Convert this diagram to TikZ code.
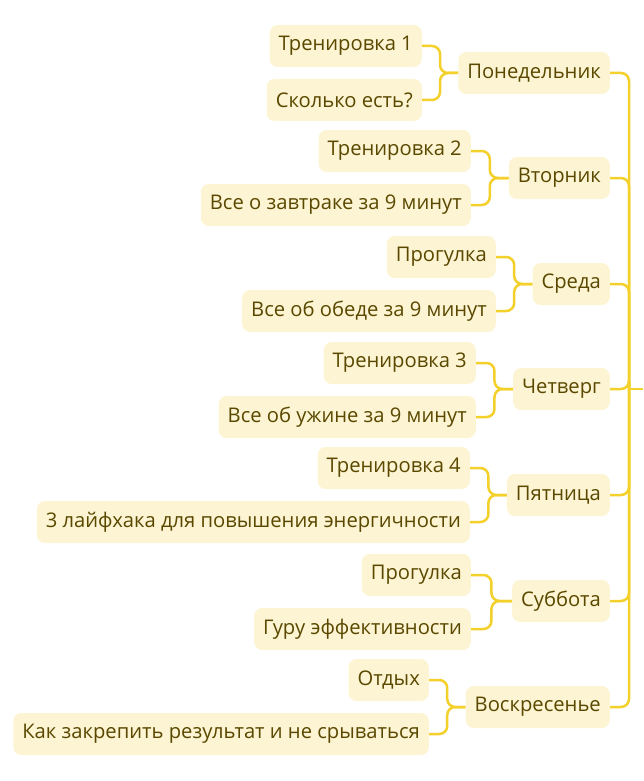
\documentclass[tikz,border=0pt]{standalone}
\usepackage{fontspec}
\setmainfont{Open Sans}
\usetikzlibrary{calc}
\definecolor{boxfill}{HTML}{FCF4D2}
\definecolor{linecol}{HTML}{F3D02A}
\definecolor{txtcol}{HTML}{5A4800}
\tikzset{
  item/.style={rectangle, rounded corners=8pt, fill=boxfill, text=txtcol,
    inner xsep=9pt, inner ysep=0pt, minimum height=42pt, anchor=east,
    font=\fontsize{20.2}{24}\selectfont},
  conn/.style={draw=linecol, line width=2.5pt, rounded corners=8pt},
}
\begin{document}
\begin{tikzpicture}[x=1pt,y=-1pt]
\useasboundingbox (0,0) rectangle (643,781);
% days
\node[item] (d1) at (610,73) {Понедельник};
\node[item] (d2) at (610,178) {Вторник};
\node[item] (d3) at (610,284) {Среда};
\node[item] (d4) at (610,389) {Четверг};
\node[item] (d5) at (610,495) {Пятница};
\node[item] (d6) at (610,601) {Суббота};
\node[item] (d7) at (610,707) {Воскресенье};
% children
\node[item] (a1) at (422,46) {Тренировка 1};
\node[item] (b1) at (422,100) {Сколько есть?};
\node[item] (a2) at (471,151) {Тренировка 2};
\node[item] (b2) at (471,205) {Все о завтраке за 9 минут};
\node[item] (a3) at (496,257) {Прогулка};
\node[item] (b3) at (496,311) {Все об обеде за 9 минут};
\node[item] (a4) at (476,363) {Тренировка 3};
\node[item] (b4) at (476,417) {Все об ужине за 9 минут};
\node[item] (a5) at (470,468) {Тренировка 4};
\node[item] (b5) at (470,522) {3 лайфхака для повышения энергичности};
\node[item] (a6) at (471,575) {Прогулка};
\node[item] (b6) at (471,629) {Гуру эффективности};
\node[item] (a7) at (429,680) {Отдых};
\node[item] (b7) at (429,734) {Как закрепить результат и не срываться};
% brackets
\foreach \i in {1,...,7}{
  \coordinate (m\i) at ($(a\i.east)!0.5!(a\i.east -| d\i.west)$);
  \draw[conn] (a\i.east) -| (m\i |- d\i.west) -- (d\i.west);
  \draw[conn] (b\i.east) -| (m\i |- d\i.west) -- (d\i.west);
}
% trunk
\coordinate (root) at (643,389);
\coordinate (tr) at (629,389);
\foreach \i in {1,...,7}{
  \draw[conn] (d\i.east) -| (tr);
}
\draw[conn] (tr) -- (root);
\end{tikzpicture}
\end{document}
